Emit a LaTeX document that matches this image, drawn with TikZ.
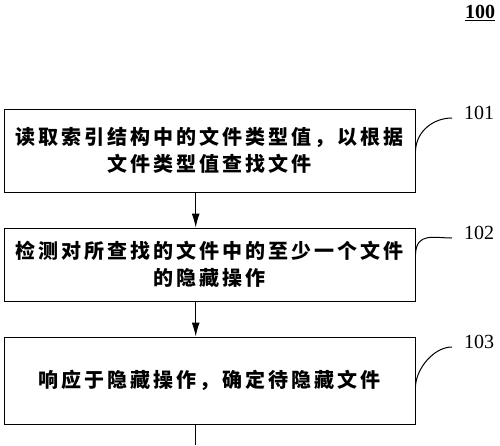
\documentclass[tikz,border=0pt]{standalone}
\usepackage{fontspec}
\setmainfont{Liberation Serif}
\newfontfamily\cjk[LetterSpace=15]{Noto Sans CJK SC}
\usetikzlibrary{arrows.meta}
\begin{document}
\begin{tikzpicture}[x=1pt,y=-1pt,line width=1pt,
  stepbox/.style={draw,minimum width=411pt,inner sep=0pt,align=center,
    font=\cjk\bfseries\fontsize{20}{26.5}\selectfont},
  flow/.style={-{Latex[length=14pt,width=8pt]}},
  lbl/.style={font=\fontsize{20}{20}\selectfont,inner sep=0pt},
  lead/.style={line width=1pt}]
\useasboundingbox (0,0) rectangle (500,445);
\node[stepbox,minimum height=83pt] (b1) at (209.5,150.5)
  {读取索引结构中的文件类型值，以根据\\文件类型值查找文件};
\node[stepbox,minimum height=73pt] (b2) at (209.5,264.5)
  {检测对所查找的文件中的至少一个文件\\的隐藏操作};
\node[stepbox,minimum height=87pt] (b3) at (209.5,380.5)
  {响应于隐藏操作，确定待隐藏文件};
\node[lbl,font=\bfseries\fontsize{20}{20}\selectfont] (l100) at (480,13) {\underline{100}};
\node[lbl] (l101) at (479,113) {101};
\node[lbl] (l102) at (479,233) {102};
\node[lbl] (l103) at (479,342) {103};
\coordinate (e101) at (452,118);
\coordinate (e102) at (452,238);
\coordinate (e103) at (452,347);
\coordinate (end) at (195.7,445);
\draw[flow] ([xshift=-13.8pt]b1.south) -- ([xshift=-13.8pt]b2.north);
\draw[flow] ([xshift=-13.8pt]b2.south) -- ([xshift=-13.8pt]b3.north);
\draw ([xshift=-13.8pt]b3.south) -- (end);
\draw[lead] (b1.east) .. controls ++(1,-20) and ++(-18,0) .. (e101);
\draw[lead] ([yshift=10.5pt]b2.east) .. controls ++(1,-22) and ++(-18,0) .. (e102);
\draw[lead] ([yshift=-5.5pt]b3.east) .. controls ++(1,-18) and ++(-18,0) .. (e103);
\end{tikzpicture}
\end{document}
